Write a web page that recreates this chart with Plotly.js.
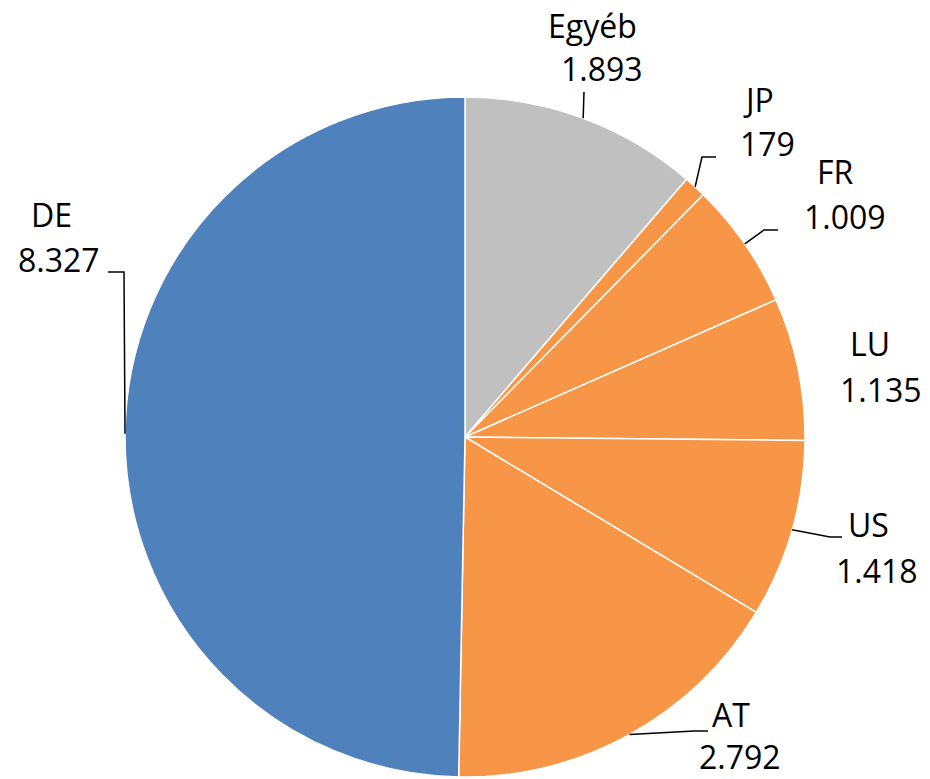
<!DOCTYPE html>
<html>
<head>
<meta charset="utf-8">
<script src="https://cdn.plot.ly/plotly-3.0.1.min.js"></script>
<style>html,body{margin:0;padding:0;background:#fff;}#chart{width:930px;height:779px;}</style>
</head>
<body>
<div id="chart"></div>
<script>
// ---- data ----
const categories = ['Egyéb', 'JP', 'FR', 'LU', 'US', 'AT', 'DE'];
const values = [1893, 179, 1009, 1135, 1418, 2792, 8327];
const sliceColors = ['#C0C0C0', '#F79646', '#F79646', '#F79646', '#F79646', '#F79646', '#4F81BD'];

// ---- layout helpers (pixel positions of labels / leader lines) ----
const W = 930, H = 779;
const CX = 465, CY = 437, R = 340;
const nameCenters  = [[592, 25], [758, 100], [835, 172], [870, 343], [868, 524], [731, 714], [51, 214]];
const valueCenters = [[602, 68], [767, 143], [845, 216], [881, 389], [877, 570], [740, 756], [59, 259]];
const leaderBends = [
  [[584, 92]],
  [[702, 157], [716, 157]],
  [[764, 230], [778, 230]],
  null,
  [[830, 537], [842, 537]],
  [[694, 731], [708, 731]],
  [[124, 272], [108, 272]]
];

function fmt(v) { return String(v).replace(/\B(?=(\d{3})+(?!\d))/g, '.'); }
const px = x => x / W;
const py = y => 1 - y / H;

const total = values.reduce((a, b) => a + b, 0);
let cum = 0;
const shapes = [];
const annotations = [];
const FONT = {family: 'Open Sans, Liberation Sans, sans-serif', size: 32, color: '#000'};

values.forEach((v, i) => {
  const midFrac = (cum + v / 2) / total;
  cum += v;
  const ang = midFrac * 2 * Math.PI;
  const ex = CX + R * Math.sin(ang);
  const ey = CY - R * Math.cos(ang);
  if (leaderBends[i]) {
    let d = 'M ' + px(ex) + ',' + py(ey);
    leaderBends[i].forEach(p => { d += ' L ' + px(p[0]) + ',' + py(p[1]); });
    shapes.push({type: 'path', xref: 'paper', yref: 'paper', path: d,
                 line: {color: '#000', width: 1.5}});
  }
  annotations.push({xref: 'paper', yref: 'paper', x: px(nameCenters[i][0]), y: py(nameCenters[i][1]),
    text: categories[i], showarrow: false, xanchor: 'center', yanchor: 'middle', font: FONT});
  annotations.push({xref: 'paper', yref: 'paper', x: px(valueCenters[i][0]), y: py(valueCenters[i][1]),
    text: fmt(values[i]), showarrow: false, xanchor: 'center', yanchor: 'middle', font: FONT});
});

const trace = {
  type: 'pie',
  labels: categories,
  values: values,
  sort: false,
  direction: 'clockwise',
  rotation: 0,
  textinfo: 'none',
  hoverinfo: 'label+value',
  marker: {colors: sliceColors, line: {color: '#FFFFFF', width: 1.5}},
  domain: {x: [px(CX - R), px(CX + R)], y: [py(CY + R), py(CY - R)]}
};

const layout = {
  width: W, height: H,
  margin: {l: 0, r: 0, t: 0, b: 0},
  showlegend: false,
  paper_bgcolor: '#FFFFFF',
  shapes: shapes,
  annotations: annotations
};

Plotly.newPlot('chart', [trace], layout, {displayModeBar: false, staticPlot: true});
</script>
</body>
</html>
